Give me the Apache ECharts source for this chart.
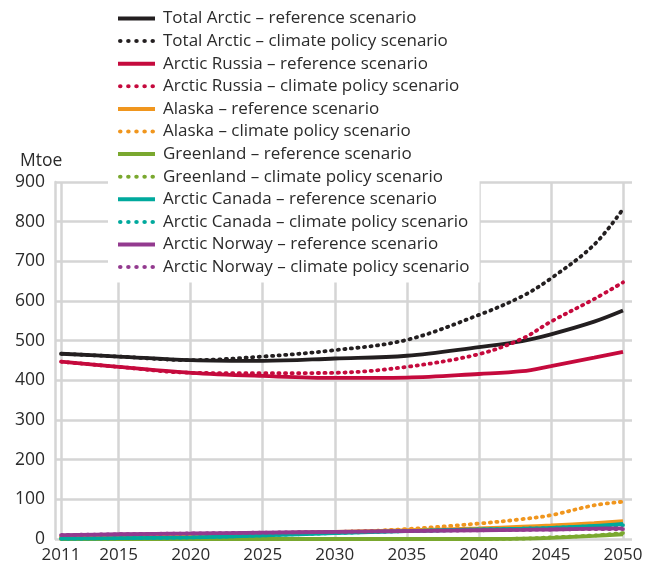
<!DOCTYPE html>
<html>
<head>
<meta charset="utf-8">
<script src="https://cdn.jsdelivr.net/npm/echarts@6/dist/echarts.min.js"></script>
<style>
html,body{margin:0;padding:0;background:#fff;}
#chart{width:646px;height:567px;}
</style>
</head>
<body>
<div id="chart"></div>
<script>
// ---- data ----
const firstYear = 2011;
const lastYear = 2050;
const labeledYears = [2011, 2015, 2020, 2025, 2030, 2035, 2040, 2045, 2050];
const sampleYears = [2011, 2015, 2020, 2025, 2030, 2035, 2040, 2043, 2045, 2048, 2050];

const totalRef     = [467, 460, 451, 449, 455, 462, 484, 499, 516, 548, 576];
const totalClimate = [467, 460, 451, 460, 476, 502, 565, 612, 657, 742, 832];
const russiaRef     = [447, 434, 419, 411, 406, 407, 416, 423, 436, 457, 472];
const russiaClimate = [447, 434, 419, 418, 419, 434, 466, 505, 548, 605, 647];
const alaskaRef     = [5, 7, 10, 14, 18, 22, 27, 31, 34, 40, 45];
const alaskaClimate = [5, 7, 10, 14, 17, 25, 39, 50, 60, 85, 94];
const greenlandRef     = [0, 0, 0, 0, 0, 0, 0, 1, 3, 8, 12];
const greenlandClimate = [0, 0, 0, 0, 0, 0, 0, 1, 4, 9, 15];
const canadaRef     = [1, 2, 4, 9, 15, 20, 24, 26, 28, 33, 38];
const canadaClimate = [1, 2, 4, 9, 15, 20, 24, 26, 28, 32, 35];
const norwayRef     = [10, 12, 14, 16, 18, 20, 22, 23, 24, 26, 27];
const norwayClimate = [10, 12, 14, 16, 18, 20, 22, 23, 24, 25, 25];

const seriesNames = [
  'Total Arctic – reference scenario',
  'Total Arctic – climate policy scenario',
  'Arctic Russia – reference scenario',
  'Arctic Russia – climate policy scenario',
  'Alaska – reference scenario',
  'Alaska – climate policy scenario',
  'Greenland – reference scenario',
  'Greenland – climate policy scenario',
  'Arctic Canada – reference scenario',
  'Arctic Canada – climate policy scenario',
  'Arctic Norway – reference scenario',
  'Arctic Norway – climate policy scenario'
];
const seriesValues = [totalRef, totalClimate, russiaRef, russiaClimate, alaskaRef, alaskaClimate,
  greenlandRef, greenlandClimate, canadaRef, canadaClimate, norwayRef, norwayClimate];
const seriesColors = ['#231f20', '#231f20', '#c50a3d', '#c50a3d', '#f0961e', '#f0961e',
  '#7aa82f', '#7aa82f', '#00a99d', '#00a99d', '#933a8f', '#933a8f'];
const yTicks = [0, 100, 200, 300, 400, 500, 600, 700, 800, 900];

// ---- chart ----
const years = [];
for (let y = firstYear; y <= lastYear; y++) years.push(String(y));
const isLabeled = (idx, val) => labeledYears.indexOf(Number(val)) >= 0;

const FONT = 'Open Sans';
const TXT = '#2b2b2b';
const GRID = '#d5d5d5';

// legend icons: solid bar and a row of five dots
const solidIcon = 'path://M0,0H37V4H0Z';
let dotPath = 'path://';
for (let k = 0; k < 5; k++) {
  const x0 = k * 8.2;
  dotPath += 'M' + x0 + ',2a2.3,2 0 1,0 4.6,0a2.3,2 0 1,0 -4.6,0';
}
const dottedIcon = dotPath;

const series = seriesNames.map((name, i) => ({
  name: name,
  type: 'line',
  data: sampleYears.map((y, k) => [String(y), seriesValues[i][k]]),
  smooth: 0.35,
  symbol: 'none',
  showSymbol: false,
  color: seriesColors[i],
  lineStyle: i % 2 === 0
    ? { width: 3.8, color: seriesColors[i] }
    : { width: 3.8, color: seriesColors[i], type: [1.2, 5.4], cap: 'round' },
  emphasis: { disabled: true }
}));

const chart = echarts.init(document.getElementById('chart'), null, { renderer: 'canvas' });
chart.setOption({
  animation: false,
  backgroundColor: '#fff',
  textStyle: { fontFamily: FONT },
  title: {
    text: 'Mtoe', left: 15, top: 147,
    textStyle: { fontFamily: FONT, fontSize: 17.5, fontWeight: 'normal', color: TXT }
  },
  grid: { left: 61, right: 23, top: 182, bottom: 28, containLabel: false },
  legend: {
    orient: 'vertical', left: 108, top: 0,
    padding: [10, 10, 7, 10],
    backgroundColor: '#fff',
    itemWidth: 37, itemHeight: 4, itemGap: 5.6,
    textStyle: { fontFamily: FONT, fontSize: 17, lineHeight: 16, color: TXT, padding: [0, 0, 0, 3] },
    data: seriesNames.map((n, i) => ({
      name: n,
      icon: i % 2 === 0 ? solidIcon : dottedIcon,
      itemStyle: { color: seriesColors[i] }
    }))
  },
  xAxis: {
    type: 'category', data: years, boundaryGap: false,
    axisLine: { show: false }, axisTick: { show: false },
    axisLabel: { interval: isLabeled, color: TXT, fontFamily: FONT, fontSize: 17, margin: 8 },
    splitLine: { show: true, interval: isLabeled, lineStyle: { color: GRID, width: 2.5 } }
  },
  yAxis: [{
    type: 'value', min: 0, max: 900, interval: 100, offset: 6,
    axisLine: { show: true, lineStyle: { color: GRID, width: 2.5 } },
    axisTick: { show: true, inside: true, length: 6, lineStyle: { color: GRID, width: 2.5 } },
    axisLabel: { color: TXT, fontFamily: FONT, fontSize: 17.5, margin: 10,
      formatter: v => yTicks.indexOf(v) >= 0 ? String(v) : '' },
    splitLine: { show: true, lineStyle: { color: GRID, width: 2.5 } }
  }, {
    type: 'value', min: 0, max: 900, interval: 100, position: 'right',
    axisLine: { show: false },
    axisTick: { show: true, inside: false, length: 9, lineStyle: { color: GRID, width: 2.5 } },
    axisLabel: { show: false },
    splitLine: { show: false }
  }],
  series: series
});
</script>
</body>
</html>
